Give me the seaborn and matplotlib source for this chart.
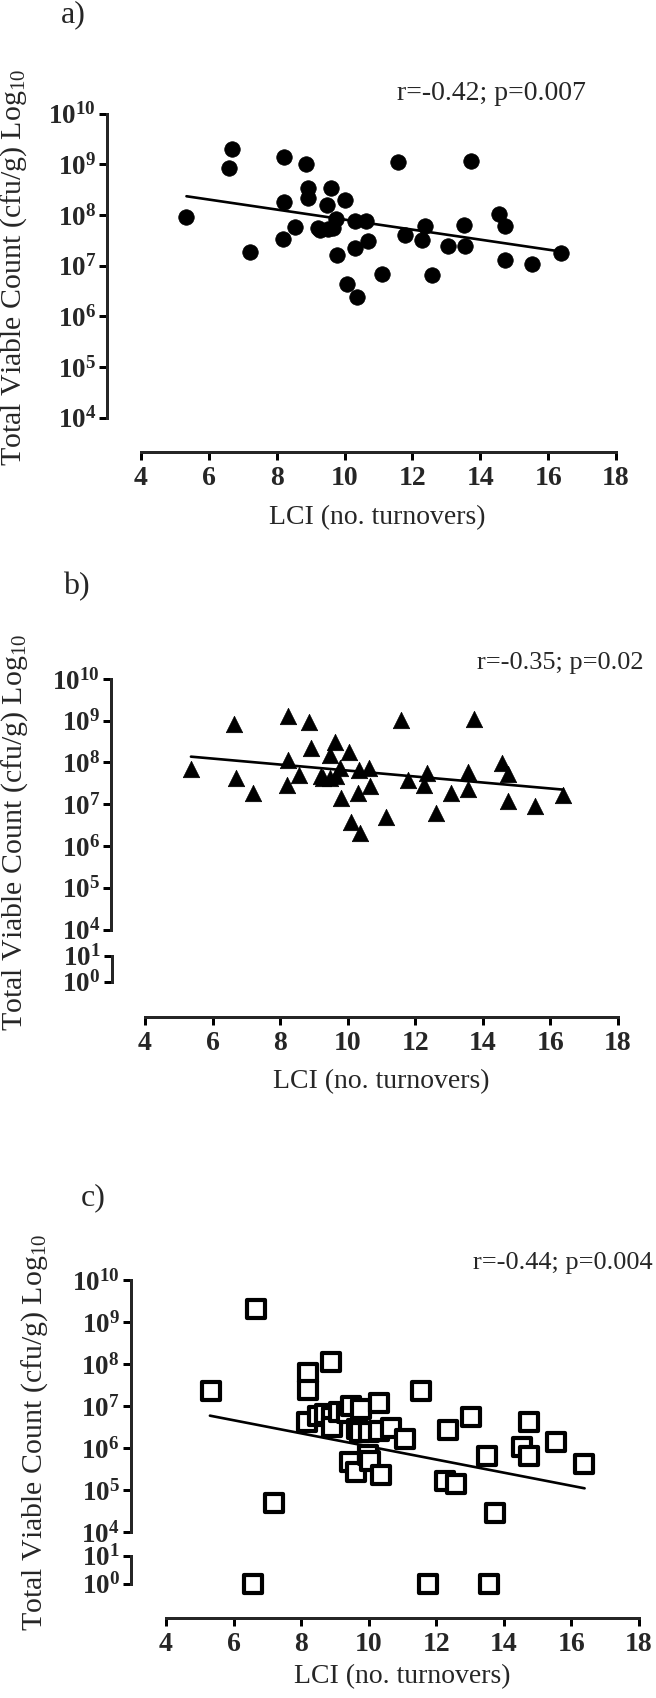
import numpy as np
import matplotlib
matplotlib.use("Agg")
import matplotlib.pyplot as plt
import seaborn as sns
from matplotlib.ticker import NullLocator

sns.set_style("ticks")
plt.rcParams["font.family"] = ["Liberation Serif", "DejaVu Serif"]
plt.rcParams["mathtext.fontset"] = "custom"
plt.rcParams["mathtext.rm"] = "Liberation Serif"
plt.rcParams["mathtext.bf"] = "Liberation Serif:bold"
plt.rcParams["mathtext.it"] = "Liberation Serif:italic"

# ---------------- data (x = LCI, y = log10 of total viable count) ----------------
a_lci = [5.34, 6.68, 6.60, 7.22, 8.22, 8.20, 8.19, 8.55, 8.86, 8.91, 8.91, 9.21, 9.28, 9.47,
         9.60, 9.50, 9.65, 9.75, 9.77, 10.02, 10.31, 10.30, 10.62, 10.68, 10.08, 10.36, 11.10,
         11.56, 11.77, 12.27, 12.37, 12.58, 13.05, 13.55, 13.52, 13.72, 14.54, 14.74, 14.74,
         15.53, 16.37]
a_log = [7.97, 9.31, 8.93, 7.28, 9.14, 8.26, 7.52, 7.76, 9.00, 8.54, 8.34, 7.74, 7.70, 8.20,
         8.53, 7.72, 7.74, 7.93, 7.22, 8.30, 7.89, 7.35, 7.88, 7.48, 6.64, 6.38, 6.84,
         9.04, 7.61, 7.50, 7.79, 6.82, 7.38, 7.38, 7.80, 9.07, 8.01, 7.78, 7.11,
         7.03, 7.26]
a_fit_lci = [5.34, 16.37]
a_fit_log = [8.37, 7.28]

b_lci = [5.36, 6.64, 6.70, 7.21, 8.23, 8.23, 8.19, 8.57, 8.85, 8.92, 9.22, 9.27, 9.47, 9.62,
         9.49, 9.65, 9.77, 10.03, 9.80, 10.33, 10.62, 10.29, 10.66, 10.10, 10.36, 11.13,
         11.57, 11.77, 12.25, 12.35, 12.61, 13.06, 13.57, 13.57, 13.73, 14.56, 14.75, 14.75,
         15.55, 16.38]
b_log = [7.84, 8.92, 7.63, 7.26, 9.12, 8.06, 7.45, 7.71, 8.98, 8.34, 7.67, 7.62, 8.17, 8.49,
         7.63, 7.68, 7.86, 8.26, 7.15, 7.81, 7.86, 7.28, 7.43, 6.57, 6.31, 6.70,
         9.01, 7.57, 7.47, 7.76, 6.79, 7.26, 7.36, 7.77, 9.04, 7.98, 7.73, 7.07,
         6.95, 7.23]
b_fit_lci = [5.36, 16.38]
b_fit_log = [8.14, 7.35]

c_lci = [5.34, 6.66, 6.58, 7.20, 8.19, 8.19, 8.16, 8.89, 8.50, 8.72, 8.91, 8.91, 9.12, 9.37,
         9.49, 9.76, 9.64, 9.74, 9.46, 9.61, 10.01, 9.98, 10.05, 10.29, 10.29, 10.36, 10.67,
         11.07, 11.55, 11.74, 12.34, 12.25, 12.59, 13.02, 13.51, 13.73, 13.55, 14.54, 14.75,
         14.73, 15.54, 16.37]
c_log = [7.35, 9.30, 0.00, 4.69, 7.78, 7.39, 6.61, 8.05, 6.76, 6.81, 6.73, 6.51, 6.85, 6.84,
         7.01, 6.93, 6.45, 6.37, 5.66, 5.43, 6.37, 5.84, 5.70, 7.07, 6.41, 5.36, 6.47,
         6.22, 7.35, 0.00, 6.44, 5.22, 5.14, 6.73, 5.80, 4.45, 0.00, 6.02, 6.63,
         5.82, 6.14, 5.62]
c_fit_lci = [5.30, 16.39]
c_fit_log = [6.77, 5.04]

x_ticks = [4, 6, 8, 10, 12, 14, 16, 18]
main_exps = [4, 5, 6, 7, 8, 9, 10]
low_exps = [0, 1]

panel_labels = ["a)", "b)", "c)"]
stats_text = ["r=-0.42; p=0.007", "r=-0.35; p=0.02", "r=-0.44; p=0.004"]
x_label = "LCI (no. turnovers)"
y_label = r"Total Viable Count (cfu/g) Log$_{10}$"

# ---------------- figure ----------------
W, H = 656, 1698
fig = plt.figure(figsize=(W / 100, H / 100), dpi=100)
fig.patch.set_facecolor("white")

PT = 0.72  # points per pixel at 100 dpi
LW = 3 * PT
TICK_FS = 19.5
LABEL_FS = 20


def axes_px(l, r, t, b):
    return fig.add_axes([l / W, 1 - b / H, (r - l) / W, (b - t) / H])


def style_y(ax, exps, left_off_px):
    ax.set_yscale("log")
    ax.set_ylim(10 ** exps[0], 10 ** exps[-1])
    ax.set_xlim(x_ticks[0], x_ticks[-1])
    for s in ["top", "right"]:
        ax.spines[s].set_visible(False)
    ax.spines["left"].set_position(("outward", left_off_px * PT))
    ax.spines["left"].set_linewidth(LW)
    ax.set_yticks([10.0 ** e for e in exps])
    ax.set_yticklabels([r"$\mathbf{10^{%d}}$" % e for e in exps])
    ax.yaxis.set_minor_locator(NullLocator())
    ax.tick_params(axis="y", length=8 * PT, width=LW, pad=3 * PT, color="black",
                   labelsize=TICK_FS)
    ax.set_facecolor("none")
    ax.set_xlabel("")
    ax.set_ylabel("")


def style_x(ax, bottom_off_px, show):
    if show:
        ax.spines["bottom"].set_position(("outward", bottom_off_px * PT))
        ax.spines["bottom"].set_linewidth(LW)
        ax.set_xticks(x_ticks)
        ax.set_xticklabels([str(t) for t in x_ticks], fontweight="bold")
        ax.tick_params(axis="x", length=8 * PT, width=LW, pad=6 * PT, color="black",
                       labelsize=TICK_FS + 0.5)
    else:
        ax.spines["bottom"].set_visible(False)
        ax.tick_params(axis="x", bottom=False, labelbottom=False)
    ax.xaxis.set_minor_locator(NullLocator())


def scatter(ax, xs, logs, marker, filled, size):
    ys = [10.0 ** v for v in logs]
    if filled:
        sns.scatterplot(x=xs, y=ys, ax=ax, marker=marker, s=size, color="black",
                        edgecolor="black", linewidth=0.5, clip_on=False, zorder=3)
    else:
        sns.scatterplot(x=xs, y=ys, ax=ax, marker=marker, s=size, facecolor="white",
                        edgecolor="black", linewidth=3.0, clip_on=False, zorder=3)


def fit(ax, xs, logs):
    sns.lineplot(x=xs, y=[10.0 ** v for v in logs], ax=ax, color="black",
                 linewidth=1.9, zorder=2)


# ---- panel a ----
ax_a = axes_px(141, 616, 113.6, 417.8)
scatter(ax_a, a_lci, a_log, "o", True, 125)
fit(ax_a, a_fit_lci, a_fit_log)
style_y(ax_a, main_exps, 34)
style_x(ax_a, 34, True)

# ---- panel b ----
ax_b = axes_px(145, 618, 679, 929.5)
scatter(ax_b, b_lci, b_log, "^", True, 140)
fit(ax_b, b_fit_lci, b_fit_log)
style_y(ax_b, main_exps, 34)
style_x(ax_b, 0, False)
ax_b2 = axes_px(145, 618, 955.7, 981.7)
style_y(ax_b2, low_exps, 33.5)
style_x(ax_b2, 35, True)

# ---- panel c ----
c_hi = [(x, v) for x, v in zip(c_lci, c_log) if v >= 4]
c_lo = [(x, v) for x, v in zip(c_lci, c_log) if v < 4]
ax_c = axes_px(166, 639, 1280, 1532)
scatter(ax_c, [p[0] for p in c_hi], [p[1] for p in c_hi], "s", False, 150)
fit(ax_c, c_fit_lci, c_fit_log)
style_y(ax_c, main_exps, 35.3)
style_x(ax_c, 0, False)
ax_c2 = axes_px(166, 639, 1555.7, 1583.5)
scatter(ax_c2, [p[0] for p in c_lo], [p[1] for p in c_lo], "s", False, 150)
style_y(ax_c2, low_exps, 35.3)
style_x(ax_c2, 34.8, True)


def ftext(x, y, s, **kw):
    fig.text(x / W, 1 - y / H, s, **kw)


# panel letters
for lab, (x, y) in zip(panel_labels, [(73, 15), (76, 587), (93, 1198)]):
    ftext(x, y, lab, fontsize=23, ha="center", va="center")

# statistics
ftext(397, 93, stats_text[0], fontsize=20, ha="left", va="center")
ftext(477, 663, stats_text[1], fontsize=19, ha="left", va="center")
ftext(653, 1263, stats_text[2], fontsize=19, ha="right", va="center")

# axis labels
for (x, y) in [(377, 518), (381, 1082), (402, 1677)]:
    ftext(x, y, x_label, fontsize=LABEL_FS, ha="center", va="center")
for (x, y) in [(14, 267), (15, 832), (35, 1432)]:
    ftext(x, y, y_label, fontsize=21.5, ha="center", va="center", rotation=90)

fig.savefig("out.png", dpi=100, facecolor="white")
